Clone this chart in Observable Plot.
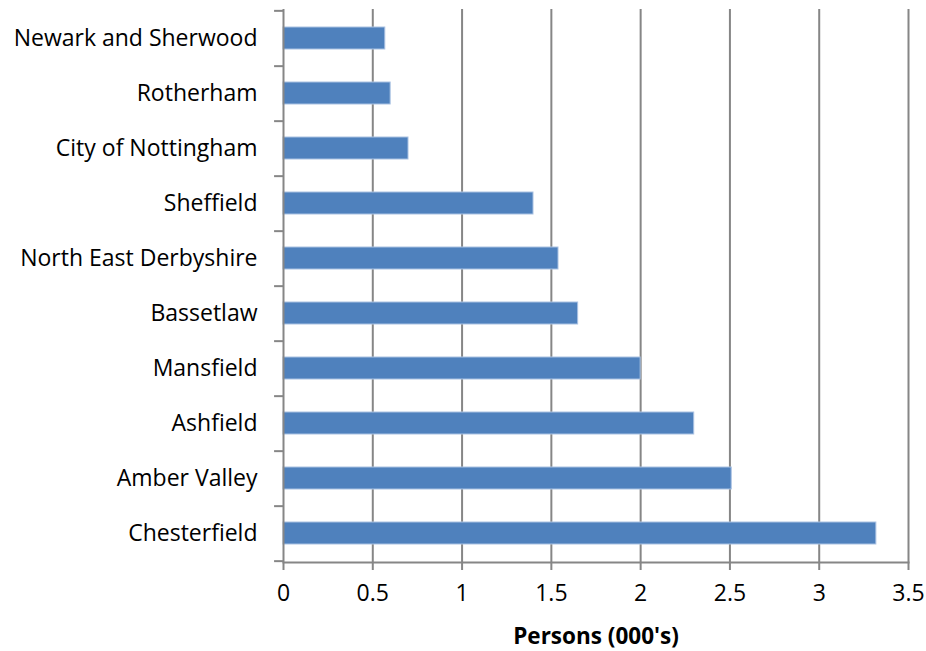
<!DOCTYPE html>
<html>
<head>
<meta charset="utf-8">
<script src="https://cdn.jsdelivr.net/npm/d3@7"></script>
<script src="https://cdn.jsdelivr.net/npm/@observablehq/plot@0.6"></script>
<style>
  html, body { margin: 0; padding: 0; background: #fff; }
  #chart svg { display: block; }
</style>
</head>
<body>
<div id="chart"></div>
<script>
const categories = ["Newark and Sherwood", "Rotherham", "City of Nottingham", "Sheffield", "North East Derbyshire", "Bassetlaw", "Mansfield", "Ashfield", "Amber Valley", "Chesterfield"];
const values = [0.57, 0.60, 0.70, 1.40, 1.54, 1.65, 2.00, 2.30, 2.51, 3.32];
const xTicks = [0, 0.5, 1, 1.5, 2, 2.5, 3, 3.5];
const xLabel = "Persons (000's)";

const data = categories.map((c, i) => ({category: c, value: values[i]}));

const W = 926, H = 651;
const mTop = 9, mBottom = 89, mLeft = 283, mRight = 18;
const step = (H - mTop - mBottom) / categories.length;
const gray = "#868686";
const font = "'Open Sans', Lato, sans-serif";

const chart = Plot.plot({
  width: W,
  height: H,
  marginTop: mTop,
  marginBottom: mBottom,
  marginLeft: mLeft,
  marginRight: mRight,
  style: {fontFamily: font, fontSize: "22px", color: "#000", background: "#fff"},
  x: {domain: [0, 3.5]},
  y: {domain: categories, paddingInner: 0.6, paddingOuter: 0.3},
  marks: [
    Plot.gridX(xTicks.filter(t => t > 0), {stroke: gray, strokeOpacity: 1, strokeWidth: 2}),
    Plot.barX(data, {y: "category", x: "value", fill: "#4F81BD", stroke: "#a9c1e2", strokeWidth: 1}),
    Plot.ruleX([0], {stroke: gray, strokeWidth: 2}),
    Plot.frame({anchor: "bottom", stroke: gray, strokeWidth: 2}),
    // y-axis tick marks at band boundaries
    Plot.ruleY(categories, {y: d => d, x1: 0, x2: -0.05, dy: step / 2, stroke: gray, strokeWidth: 2}),
    Plot.ruleY(categories.slice(0, 1), {y: d => d, x1: 0, x2: -0.05, dy: -step / 2, stroke: gray, strokeWidth: 2}),
    Plot.axisY({tickSize: 0, tickPadding: 26, fontSize: 23, label: null}),
    Plot.axisX({ticks: xTicks, tickSize: 8, tickPadding: 14, stroke: gray, strokeWidth: 2, strokeOpacity: 1, fontSize: 23, label: null, tickFormat: d => String(d)}),
    Plot.axisX({ticks: [], label: xLabel, labelAnchor: "center", labelArrow: "none", labelOffset: 81, fontWeight: "bold", fontSize: 22.5})
  ]
});

document.getElementById("chart").appendChild(chart);
</script>
</body>
</html>
